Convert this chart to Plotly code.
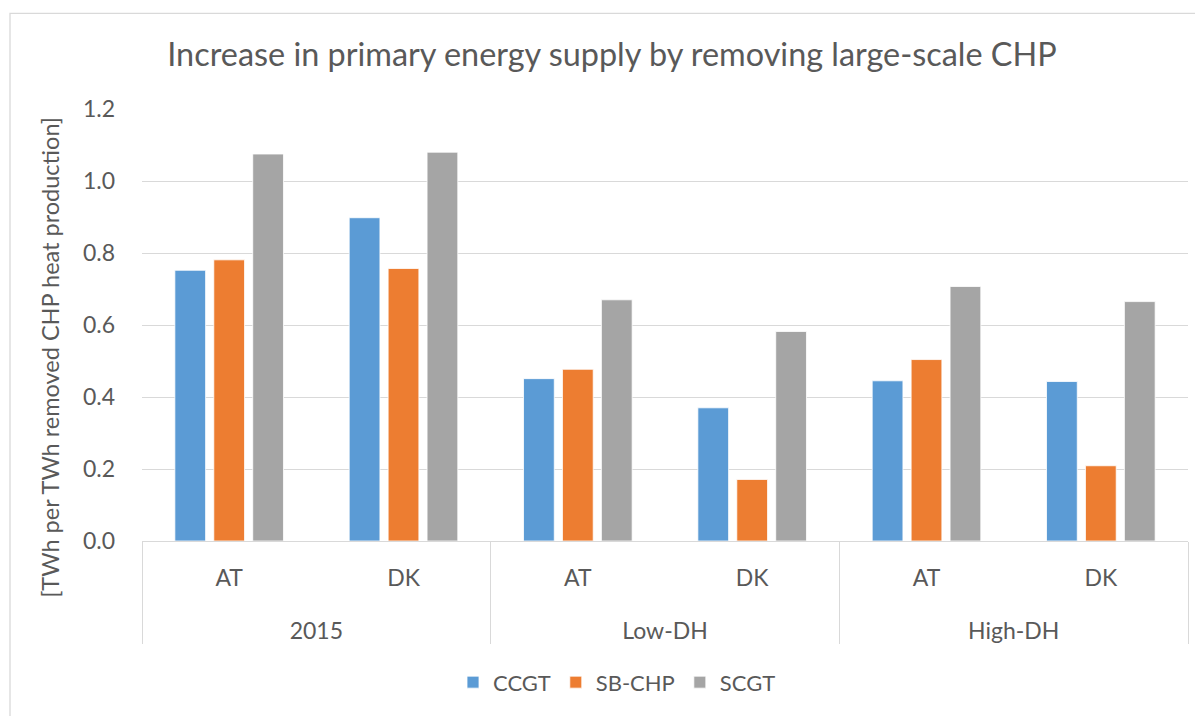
import plotly.graph_objects as go

scenarios = ["2015", "2015", "Low-DH", "Low-DH", "High-DH", "High-DH"]
countries = ["AT", "DK", "AT", "DK", "AT", "DK"]
ccgt = [0.752, 0.898, 0.451, 0.370, 0.445, 0.443]
sb_chp = [0.781, 0.757, 0.477, 0.171, 0.504, 0.209]
scgt = [1.075, 1.080, 0.670, 0.582, 0.707, 0.665]
y_ticks = [0.0, 0.2, 0.4, 0.6, 0.8, 1.0, 1.2]
y_tick_labels = ["0.0", "0.2", "0.4", "0.6", "0.8", "1.0", "1.2"]

series = [("CCGT", ccgt, "#5B9BD5"), ("SB-CHP", sb_chp, "#ED7D31"), ("SCGT", scgt, "#A5A5A5")]

FONT = "Lato, 'Open Sans', sans-serif"
GREY = "#595959"
LINE = "#D9D9D9"

# invisible tall padding around inner labels pushes the outer level down (Excel-like spacing)
PAD = "<span style='font-size:56px'>\u00a0</span>"
inner_labels = [PAD + c + PAD for c in countries]

fig = go.Figure()
for name, vals, col in series:
    fig.add_trace(go.Bar(
        x=[scenarios, inner_labels], y=vals, name=name,
        marker=dict(color=col, line=dict(color="white", width=0.8)),
    ))

# page body has an 8px margin; work in reference pixels and shift
OFF = 8
W, H = 1203 - OFF, 716 - OFF
PX0, PX1, PY0, PY1 = 142, 1188, 109, 543  # plot area in reference pixels
L, R, T, B = PX0 - OFF, W - (PX1 - OFF), PY0 - OFF, H - (PY1 - OFF)
pw, ph = PX1 - PX0, PY1 - PY0

def px(x):
    return (x - PX0) / pw

def py(y):
    return (PY1 - y) / ph

fig.update_layout(
    width=W, height=H,
    margin=dict(l=L, r=R, t=T, b=B),
    paper_bgcolor="white", plot_bgcolor="white",
    barmode="group", bargap=0.33, bargroupgap=0.21,
    font=dict(family=FONT, color=GREY, size=23),
    title=dict(text="Increase in primary energy supply by removing large-scale CHP",
               x=(612 - OFF) / W, xanchor="center", y=1 - (55 - OFF) / H, yanchor="middle",
               font=dict(size=32.4, color=GREY, family=FONT)),
    legend=dict(orientation="h", x=px(617), xanchor="center",
                y=py(685), yanchor="middle",
                font=dict(size=22, color=GREY), tracegroupgap=0),
    yaxis=dict(range=[0, 1.2], tickvals=y_ticks, ticktext=y_tick_labels,
               showgrid=True, gridcolor=LINE, gridwidth=1.3, zeroline=False,
               showline=False, ticks="", tickfont=dict(size=23, color=GREY),
               ticklabelstandoff=26),
    xaxis=dict(type="multicategory", showline=True, linecolor=LINE, linewidth=1.3,
               showdividers=True, dividercolor=LINE, dividerwidth=1.3,
               ticks="", ticklabelstandoff=16,
               tickfont=dict(size=23, color=GREY)),
    annotations=[dict(text="[TWh per TWh removed CHP heat production]", textangle=-90,
                      xref="paper", yref="paper", x=px(50), y=py(359),
                      xanchor="center", yanchor="middle", showarrow=False,
                      font=dict(size=23.5, color=GREY))],
    shapes=[dict(type="rect", xref="paper", yref="paper",
                 x0=px(10), x1=px(1230), y0=py(740), y1=py(13),
                 line=dict(color=LINE, width=1.3), fillcolor="rgba(0,0,0,0)", layer="below")],
)

fig.write_html("out.html")
